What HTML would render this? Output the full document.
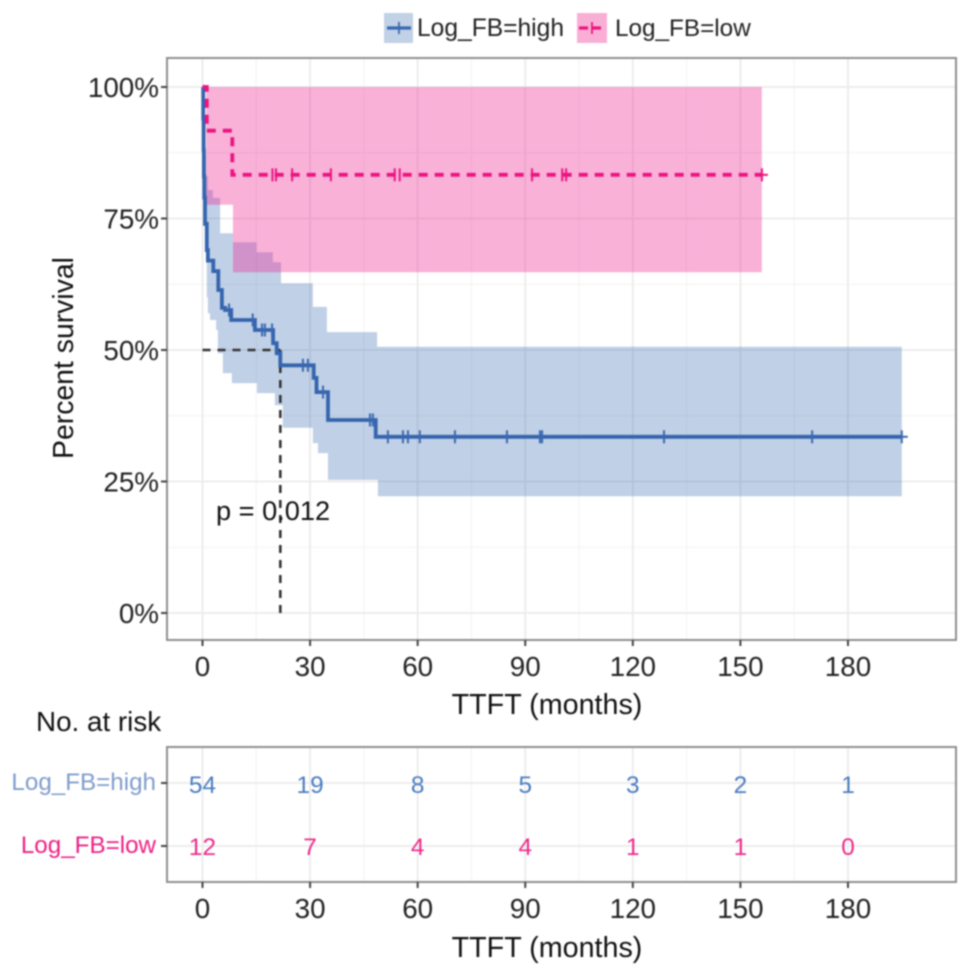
<!DOCTYPE html>
<html lang="en">
<head>
<meta charset="utf-8">
<title>Kaplan-Meier survival chart</title>
<style>
html,body{margin:0;padding:0;background:#fff;width:969px;height:976px;overflow:hidden}
svg{display:block;filter:blur(0.7px)}
text{font-family:"Liberation Sans",Arial,sans-serif}
</style>
</head>
<body>
<svg id="chart" xmlns="http://www.w3.org/2000/svg" width="969" height="976" viewBox="0 0 969 976"></svg>
<script>
const xTicks = [0, 30, 60, 90, 120, 150, 180];
const xMinorTicks = [15, 45, 75, 105, 135, 165];
const yTicks = [0, 25, 50, 75, 100];
const yMinorTicks = [12.5, 37.5, 62.5, 87.5];

const highTimes = [0, 0.2, 0.3, 0.4, 0.5, 0.7, 1.2, 1.5, 3, 4.4, 5.4, 6.3, 8, 14.6, 19.7, 20.7, 21.7, 22, 31, 31.8, 35, 48.3, 195];
const highSurv = [100, 94, 88, 83, 79, 74, 69, 67, 65, 61.4, 58, 57.6, 55.7, 53.8, 51.3, 49.4, 47.1, 47.1, 44.7, 42, 36.7, 33.5, 33.5];
const highCensor = [7.4, 14, 16.6, 17.4, 19.4, 28, 29.4, 33.6, 46.7, 47.5, 51.7, 55.9, 57.3, 60.6, 70.4, 84.9, 94.1, 94.7, 128.7, 170, 195];

const highUpperTimes = [0, 0.2, 0.4, 0.6, 1, 1.5, 2.9, 4.9, 8.5, 15.1, 19.6, 21.9, 30.8, 34.7, 48.7, 195];
const highUpperSurv = [100, 97, 92, 87, 83, 80.4, 78.9, 72.2, 70.5, 68.6, 66.7, 62.7, 58.2, 53.4, 50.6, 50.6];
const highLowerTimes = [0, 0.2, 0.3, 0.4, 0.6, 0.7, 1.2, 1.5, 2.1, 3.8, 4.3, 5.7, 8.2, 15.2, 20.2, 22.4, 30.8, 32.2, 35, 48.9, 195];
const highLowerSurv = [100, 92, 85, 78, 73, 69, 60, 57, 55.7, 53.8, 49.4, 45.6, 43.7, 41.8, 39.5, 35.2, 32.3, 30.4, 25.3, 22.2, 22.2];

const lowTimes = [0, 1.2, 8.3, 156];
const lowSurv = [100, 91.7, 83.3, 83.3];
const lowCensor = [19.5, 20.5, 25, 35.8, 53.6, 55, 91.9, 100.3, 101.4, 156];

const lowUpperTimes = [1.0, 156];
const lowUpperSurv = [100, 100];
const lowLowerTimes = [1.0, 8.5, 156];
const lowLowerSurv = [77.6, 64.8, 64.8];

const medianTime = [21.7];
const medianSurv = [50];
const pValueLabel = ["p = 0.012"];

const riskGroups = ["Log_FB=high", "Log_FB=low"];
const riskHigh = [54, 19, 8, 5, 3, 2, 1];
const riskLow = [12, 7, 4, 4, 1, 1, 0];

const svg = document.getElementById('chart');
const NS = 'http://www.w3.org/2000/svg';
const sx = t => 202.5 + t * 3.586;
const sy = s => 613 - s * 5.26;
const riskY = i => 783 + i * 63;
const main = {l: 167, r: 956, t: 58, b: 640};
const risk = {l: 167, r: 956, t: 747, b: 882};

function mk(tag, attrs, parent) {
  const el = document.createElementNS(NS, tag);
  for (const k in attrs) el.setAttribute(k, attrs[k]);
  (parent || svg).appendChild(el);
  return el;
}
function stepPts(ts, ss) {
  const pts = [];
  ts.forEach((t, i) => {
    if (i > 0) pts.push([t, ss[i - 1]]);
    pts.push([t, ss[i]]);
  });
  return pts;
}
function toPath(pts) {
  return pts.map((p, i) => (i ? 'L' : 'M') + sx(p[0]).toFixed(1) + ' ' + sy(p[1]).toFixed(1)).join(' ');
}
function ribbon(ut, us, lt, ls) {
  return toPath(stepPts(ut, us).concat(stepPts(lt, ls).reverse())) + ' Z';
}
function hLine(x1, x2, y, stroke, w, name) {
  const el = mk('line', {x1: x1, x2: x2, y1: y, y2: y, stroke: stroke, 'stroke-width': w});
  
  
  return el;
}
function vLine(x, y1, y2, stroke, w, name) {
  const el = mk('line', {x1: x, x2: x, y1: y1, y2: y2, stroke: stroke, 'stroke-width': w});
  
  
  return el;
}
function label(str, x, y, size, fill, anchor, name) {
  const el = mk('text', {x: x, y: y, 'font-size': size, fill: fill, 'text-anchor': anchor || 'start'});
  el.textContent = str;
  
  
  return el;
}

/* main panel grid */
xMinorTicks.forEach(t => vLine(sx(t), main.t, main.b, '#f4f4f4', 1.2, 'x-minor-gridline'));
yMinorTicks.forEach(s => hLine(main.l, main.r, sy(s), '#f4f4f4', 1.2, 'y-minor-gridline'));
xTicks.forEach(t => vLine(sx(t), main.t, main.b, '#ebebeb', 1.8, 'x-major-gridline'));
yTicks.forEach(s => hLine(main.l, main.r, sy(s), '#ebebeb', 1.8, 'y-major-gridline'));

/* ribbons */
const highBand = mk('path', {d: ribbon(highUpperTimes, highUpperSurv, highLowerTimes, highLowerSurv), fill: '#2e62ab', 'fill-opacity': 0.3});


const lowBand = mk('path', {d: ribbon(lowUpperTimes, lowUpperSurv, lowLowerTimes, lowLowerSurv), fill: '#ee1b8d', 'fill-opacity': 0.34});



/* median reference lines */
const medH = hLine(sx(0), sx(medianTime[0]), sy(medianSurv[0]), '#333', 2.6, 'median-horizontal-line');
medH.setAttribute('stroke-dasharray', '8 7');
const medV = vLine(sx(medianTime[0]), sy(medianSurv[0]), sy(0), '#333', 2.6, 'median-vertical-line');
medV.setAttribute('stroke-dasharray', '8 7');

/* survival curves */
const highCurve = mk('path', {d: toPath(stepPts(highTimes, highSurv)), fill: 'none', stroke: '#3565ae', 'stroke-width': 3.8});


const lowCurve = mk('path', {d: toPath(stepPts(lowTimes, lowSurv)), fill: 'none', stroke: '#ec1480', 'stroke-width': 3.8, 'stroke-dasharray': '9 7'});



function survAt(ts, ss, t) {
  let v = ss[0];
  ts.forEach((tt, i) => { if (tt <= t) v = ss[i]; });
  return v;
}
highCensor.forEach(t => {
  const y = sy(survAt(highTimes, highSurv, t));
  vLine(sx(t), y - 6.5, y + 6.5, '#3a69b0', 2, 'high-censor-mark');
});
lowCensor.forEach(t => {
  const y = sy(survAt(lowTimes, lowSurv, t));
  vLine(sx(t), y - 6.5, y + 6.5, '#ec1480', 2, 'low-censor-mark');
});
hLine(sx(195), sx(195) + 6, sy(highSurv[highSurv.length - 1]), '#3a69b0', 2, 'high-curve-end-mark');
hLine(sx(156), sx(156) + 6, sy(lowSurv[lowSurv.length - 1]), '#ec1480', 2, 'low-curve-end-mark');

/* main panel border, ticks, labels */
const mainBorder = mk('rect', {x: main.l, y: main.t, width: main.r - main.l, height: main.b - main.t, fill: 'none', stroke: '#8f8f8f', 'stroke-width': 2});


yTicks.forEach(s => {
  hLine(main.l - 6, main.l, sy(s), '#444', 2, 'y-axis-tick');
  label(s + '%', 159, sy(s) + 10, 27.8, '#222', 'end', 'y-tick-label');
});
xTicks.forEach(t => {
  vLine(sx(t), main.b, main.b + 6, '#444', 2, 'x-axis-tick');
  label(String(t), sx(t), 676, 27.8, '#222', 'middle', 'x-tick-label');
});
label('TTFT (months)', 547, 714, 28.7, '#111', 'middle', 'x-axis-title');
const yTitle = label('Percent survival', 0, 0, 28.4, '#111', 'middle', 'y-axis-title');
yTitle.setAttribute('transform', 'translate(73 358) rotate(-90)');
label(pValueLabel[0], 216, 520, 27.2, '#111', 'start', 'p-value-label');

/* legend */
const keyHigh = mk('rect', {x: 384, y: 13, width: 29, height: 30, fill: '#c1d1e6'});


hLine(387, 411, 28, '#3a69b0', 3.2, 'legend-line-high');
vLine(399, 22, 34, '#3a69b0', 1.8, 'legend-censor-high');
label(riskGroups[0], 417, 36, 24.6, '#222', 'start', 'legend-entry-high');
const keyLow = mk('rect', {x: 577, y: 13, width: 30, height: 30, fill: '#f9aed6'});


const legLow = hLine(579, 605, 28, '#ec1480', 3.2, 'legend-line-low');
legLow.setAttribute('stroke-dasharray', '9 4');
vLine(592, 22, 34, '#ec1480', 1.8, 'legend-censor-low');
label(riskGroups[1], 615, 36, 24.3, '#222', 'start', 'legend-entry-low');

/* risk table */
label('No. at risk', 36, 731, 27.8, '#111', 'start', 'risk-table-title');
xMinorTicks.forEach(t => vLine(sx(t), risk.t, risk.b, '#f4f4f4', 1.2, 'risk-x-minor-gridline'));
xTicks.forEach(t => vLine(sx(t), risk.t, risk.b, '#ebebeb', 1.8, 'risk-x-major-gridline'));
riskGroups.forEach((g, i) => hLine(risk.l, risk.r, riskY(i), '#ebebeb', 1.8, 'risk-y-gridline'));
const riskBorder = mk('rect', {x: risk.l, y: risk.t, width: risk.r - risk.l, height: risk.b - risk.t, fill: 'none', stroke: '#8f8f8f', 'stroke-width': 2});


const riskColors = ['#4a7cc0', '#ec2a8a'];
const riskLabelColors = ['#7f9ccb', '#ec1f85'];
riskGroups.forEach((g, i) => {
  hLine(risk.l - 6, risk.l, riskY(i), '#444', 2, 'risk-y-tick');
  label(g, 156, riskY(i) + 7, 24.2, riskLabelColors[i], 'end', 'risk-group-label');
});
riskHigh.forEach((v, i) => label(String(v), sx(xTicks[i]), riskY(0) + 10, 24.4, riskColors[0], 'middle', 'risk-count-high'));
riskLow.forEach((v, i) => label(String(v), sx(xTicks[i]), riskY(1) + 9, 24.4, riskColors[1], 'middle', 'risk-count-low'));
xTicks.forEach(t => {
  vLine(sx(t), risk.b, risk.b + 6, '#444', 2, 'risk-x-tick');
  label(String(t), sx(t), 918, 27.8, '#222', 'middle', 'risk-x-tick-label');
});
label('TTFT (months)', 547, 957, 28.7, '#111', 'middle', 'risk-x-axis-title');
</script>
</body>
</html>
